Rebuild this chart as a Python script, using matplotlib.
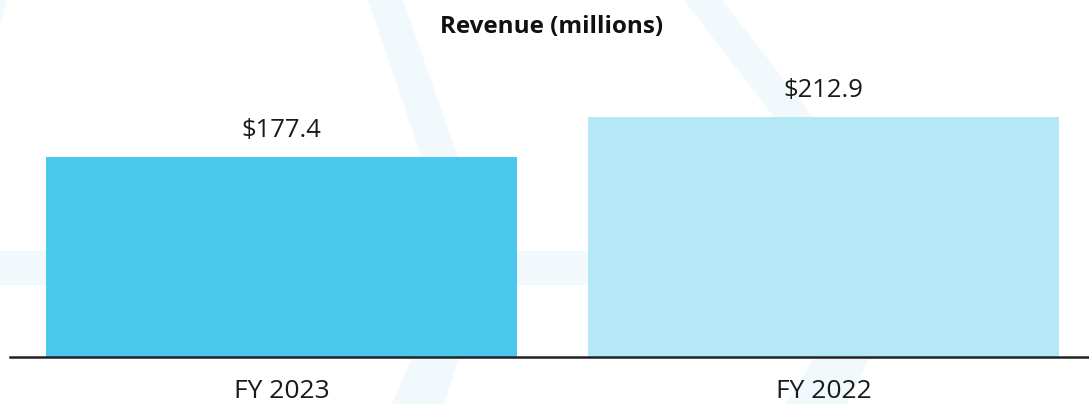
import matplotlib.pyplot as plt
from matplotlib.patches import Polygon

# data
years = ['FY 2023', 'FY 2022']
revenue = [177.4, 212.9]
labels = ['$177.4', '$212.9']
colors = ['#4bc8ee', '#b5e8f6']

W, H = 1089, 404
fig = plt.figure(figsize=(W / 100, H / 100), dpi=100)


def px(pts):
    # pixel coords (from top-left) -> figure fraction
    return [(x / W, 1 - y / H) for x, y in pts]


# faint background shapes
wm = '#f1f9fc'
shapes = [
    [(368, 0), (403, 0), (492, 255), (444, 404), (392, 404), (455, 255)],
    [(684, 0), (722, 0), (920, 255), (847, 404), (785, 404), (880, 255)],
    [(0, 251), (860, 251), (860, 285), (0, 285)],
    [(0, 0), (7, 0), (0, 25)],
]
for s in shapes:
    fig.patches.append(Polygon(px(s), closed=True, transform=fig.transFigure,
                               facecolor=wm, edgecolor='none', zorder=0))

ax = fig.add_axes([10 / W, 47 / H, 1 - 10 / W, (357 - 40) / H])
ax.patch.set_alpha(0)
ax.set_zorder(2)

x = range(len(years))
bars = ax.bar(x, revenue, width=0.869, color=colors, zorder=2)
ax.set_xlim(-0.501, 1.49)
ax.set_ylim(0, (357 - 40) / 1.1275)

for b, lab in zip(bars, labels):
    ax.annotate(lab, (b.get_x() + b.get_width() / 2, b.get_height()),
                xytext=(0, 10), textcoords='offset points',
                ha='center', va='bottom', fontsize=18.5,
                family='Open Sans', color='#1a1a1a')

ax.set_xticks(list(x))
ax.set_xticklabels(years, fontsize=19, family='Open Sans', color='#1a1a1a')
ax.tick_params(axis='x', length=0, pad=16)
ax.set_yticks([])
for sp in ['top', 'left', 'right']:
    ax.spines[sp].set_visible(False)
ax.spines['bottom'].set_linewidth(1.8)
ax.spines['bottom'].set_color('#222222')
ax.spines['bottom'].set_zorder(3)

fig.text(552 / W, 1 - 27 / H, 'Revenue (millions)', ha='center', va='center',
         fontsize=17.5, fontweight='bold', family='Open Sans', color='#111111',
         zorder=3)

plt.savefig('out.png', dpi=100)
